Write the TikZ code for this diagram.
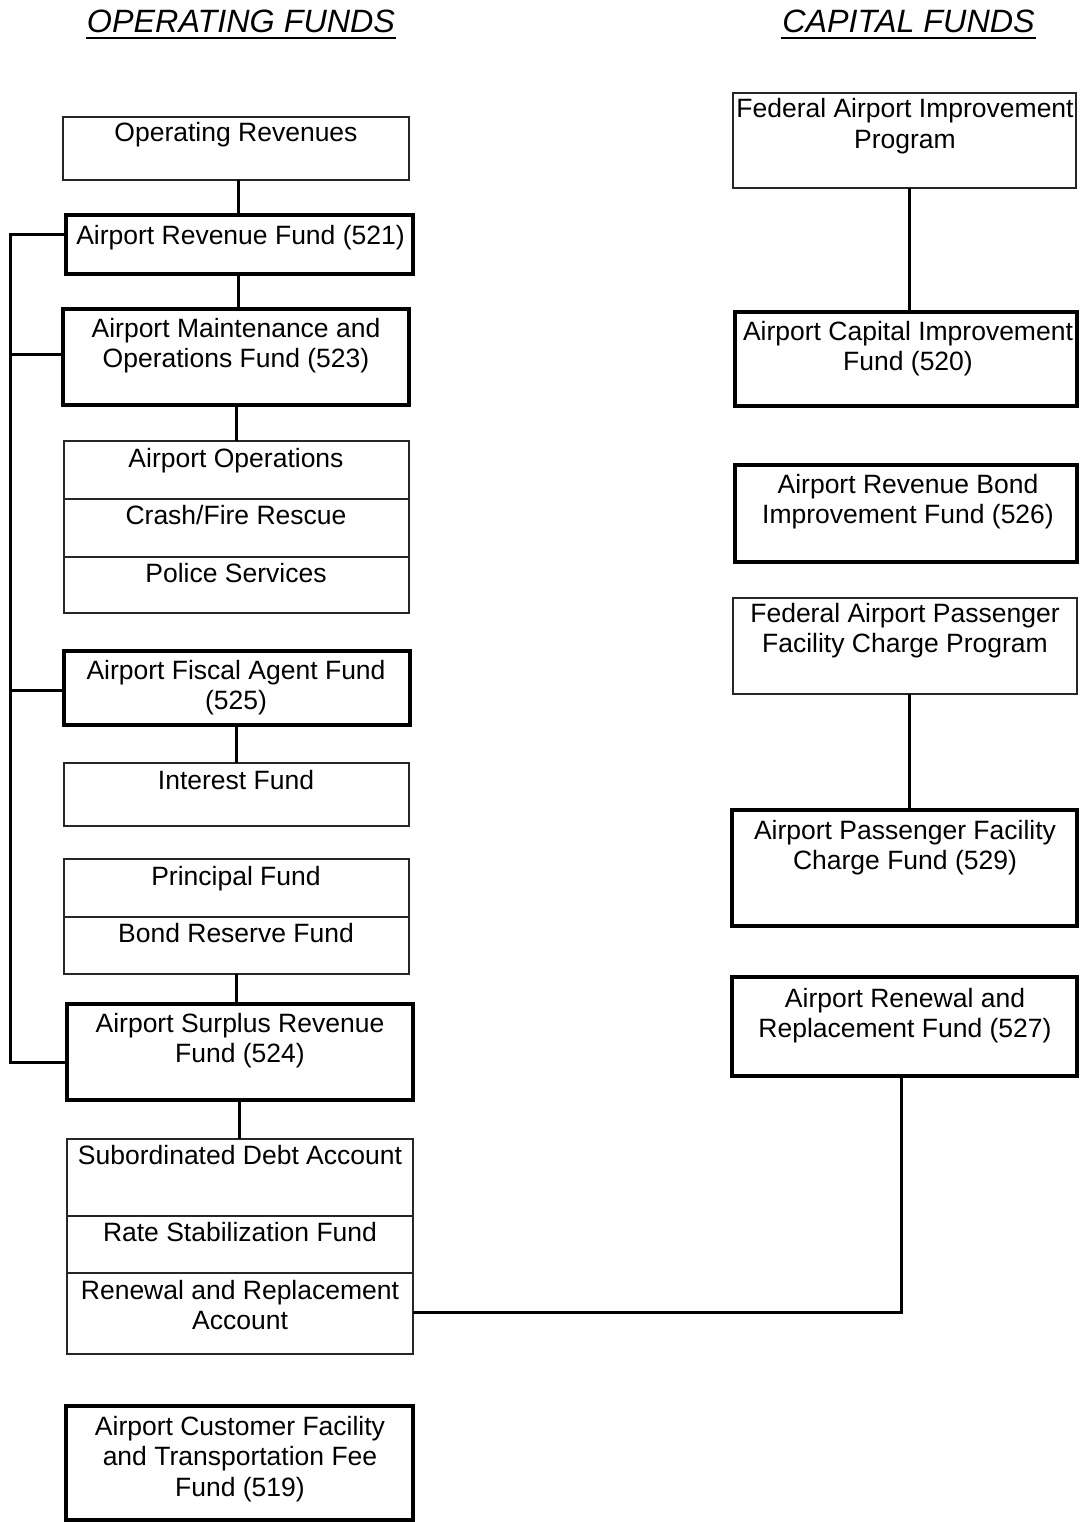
\documentclass[tikz,border=0pt]{standalone}
\usepackage{fontspec}
\setmainfont{Liberation Sans}
\usetikzlibrary{calc}
\newcommand{\mylines}[1]{\parbox[t]{380pt}{\centering #1}}
\begin{document}
\begin{tikzpicture}[x=1pt,y=-1pt,
  thinbox/.style={draw=black!85, line width=1.3pt, inner sep=0pt, outer sep=0pt, anchor=north west},
  thickbox/.style={draw=black, line width=4pt, inner sep=0pt, outer sep=0pt, anchor=north west},
  txt/.style={font=\fontsize{26.5pt}{30.5pt}\selectfont, inner sep=0pt, anchor=base},
  ttl/.style={font=\fontsize{32.3pt}{36pt}\selectfont\itshape, inner sep=0pt, anchor=base},
  conn/.style={draw=black, line width=3pt},
  uline/.style={draw=black, line width=2pt}]
\useasboundingbox (0,0) rectangle (1080,1522);
\fill[white] (0,0) rectangle (1080,1522);

% ---------- titles ----------
\node[ttl] (opf) at (241,33) {OPERATING FUNDS};
\node[ttl] (capf) at (908.5,33) {CAPITAL FUNDS};
\draw[uline] ($(opf.base west)+(-1,5)$) -- ($(opf.base east)+(1,5)$);
\draw[uline] ($(capf.base west)+(-1,5)$) -- ($(capf.base east)+(1,5)$);

% ---------- left column boxes ----------
\node[thinbox, minimum width=346pt, minimum height=63pt] (oprev) at (63,117) {};
\node[thickbox, minimum width=347pt, minimum height=59pt] (arf) at (66,215) {};
\node[thickbox, minimum width=346pt, minimum height=96pt] (amof) at (63,309) {};
\node[thinbox, minimum width=345pt, minimum height=58pt] (ops1) at (64,441) {};
\node[thinbox, minimum width=345pt, minimum height=58pt] (ops2) at (64,499) {};
\node[thinbox, minimum width=345pt, minimum height=56pt] (ops3) at (64,557) {};
\node[thickbox, minimum width=346pt, minimum height=74pt] (fiscal) at (64,651) {};
\node[thinbox, minimum width=345pt, minimum height=63pt] (interest) at (64,763) {};
\node[thinbox, minimum width=345pt, minimum height=58pt] (principal) at (64,859) {};
\node[thinbox, minimum width=345pt, minimum height=57pt] (bond) at (64,917) {};
\node[thickbox, minimum width=346pt, minimum height=96pt] (surplus) at (67,1004) {};
\node[thinbox, minimum width=346pt, minimum height=77pt] (subdebt) at (67,1139) {};
\node[thinbox, minimum width=346pt, minimum height=57pt] (rate) at (67,1216) {};
\node[thinbox, minimum width=346pt, minimum height=81pt] (rr) at (67,1273) {};
\node[thickbox, minimum width=347pt, minimum height=114pt] (custfac) at (66,1406) {};

% ---------- right column boxes ----------
\node[thinbox, minimum width=343pt, minimum height=95pt] (faip) at (733,93) {};
\node[thickbox, minimum width=342pt, minimum height=94pt] (acif) at (735,312) {};
\node[thickbox, minimum width=342pt, minimum height=97pt] (arbif) at (735,465) {};
\node[thinbox, minimum width=344pt, minimum height=96pt] (fapfc) at (733,598) {};
\node[thickbox, minimum width=345pt, minimum height=116pt] (apfc) at (732,810) {};
\node[thickbox, minimum width=345pt, minimum height=99pt] (arr) at (732,977) {};

% ---------- texts ----------
\node[txt] (t-oprev) at (236,142) {\mylines{Operating Revenues}};
\node[txt] (t-arf) at (240.5,244) {\mylines{Airport Revenue Fund (521)}};
\node[txt] (t-amof) at (236,337) {\mylines{Airport Maintenance and\\Operations Fund (523)}};
\node[txt] (t-ops1) at (236,467) {\mylines{Airport Operations}};
\node[txt] (t-ops2) at (236,524) {\mylines{Crash/Fire Rescue}};
\node[txt] (t-ops3) at (236,582) {\mylines{Police Services}};
\node[txt] (t-fiscal) at (236,679) {\mylines{Airport Fiscal Agent Fund\\(525)}};
\node[txt] (t-interest) at (236,789) {\mylines{Interest Fund}};
\node[txt] (t-principal) at (236,885) {\mylines{Principal Fund}};
\node[txt] (t-bond) at (236,942) {\mylines{Bond Reserve Fund}};
\node[txt] (t-surplus) at (240,1032) {\mylines{Airport Surplus Revenue\\Fund (524)}};
\node[txt] (t-subdebt) at (240,1164) {\mylines{Subordinated Debt Account}};
\node[txt] (t-rate) at (240,1241) {\mylines{Rate Stabilization Fund}};
\node[txt] (t-rr) at (240,1299) {\mylines{Renewal and Replacement\\Account}};
\node[txt] (t-custfac) at (240,1435) {\mylines{Airport Customer Facility\\and Transportation Fee\\Fund (519)}};

\node[txt] (t-faip) at (905,118) {\mylines{Federal Airport Improvement\\Program}};
\node[txt] (t-acif) at (908,340) {\mylines{Airport Capital Improvement\\Fund (520)}};
\node[txt] (t-arbif) at (908,493) {\mylines{Airport Revenue Bond\\Improvement Fund (526)}};
\node[txt] (t-fapfc) at (905,622) {\mylines{Federal Airport Passenger\\Facility Charge Program}};
\node[txt] (t-apfc) at (905,839) {\mylines{Airport Passenger Facility\\Charge Fund (529)}};
\node[txt] (t-arr) at (905,1007) {\mylines{Airport Renewal and\\Replacement Fund (527)}};

% ---------- connectors ----------
\coordinate (cx1) at (238,0);
\coordinate (cx2) at (236,0);
\coordinate (cx3) at (239,0);
\coordinate (cx4) at (909,0);
\draw[conn] (oprev.south -| cx1) -- (arf.north -| cx1);
\draw[conn] (arf.south -| cx1) -- (amof.north -| cx1);
\draw[conn] (amof.south -| cx2) -- (ops1.north -| cx2);
\draw[conn] (fiscal.south -| cx2) -- (interest.north -| cx2);
\draw[conn] (bond.south -| cx2) -- (surplus.north -| cx2);
\draw[conn] (surplus.south -| cx3) -- (subdebt.north -| cx3);
\draw[conn] (faip.south -| cx4) -- (acif.north -| cx4);
\draw[conn] (fapfc.south -| cx4) -- (apfc.north -| cx4);

% left bus
\coordinate (bt) at (10,235);
\coordinate (b2) at (10,354);
\coordinate (b3) at (10,690);
\coordinate (bb) at (10,1062);
\draw[conn] (bt -| arf.west) -- (bt) -- (bb) -- (bb -| surplus.west);
\draw[conn] (b2) -- (b2 -| amof.west);
\draw[conn] (b3) -- (b3 -| fiscal.west);

% renewal & replacement link
\coordinate (rrc) at (901,1312);
\draw[conn] (arr.south -| rrc) -- (rrc) -- (rrc -| rr.east);
\end{tikzpicture}
\end{document}
